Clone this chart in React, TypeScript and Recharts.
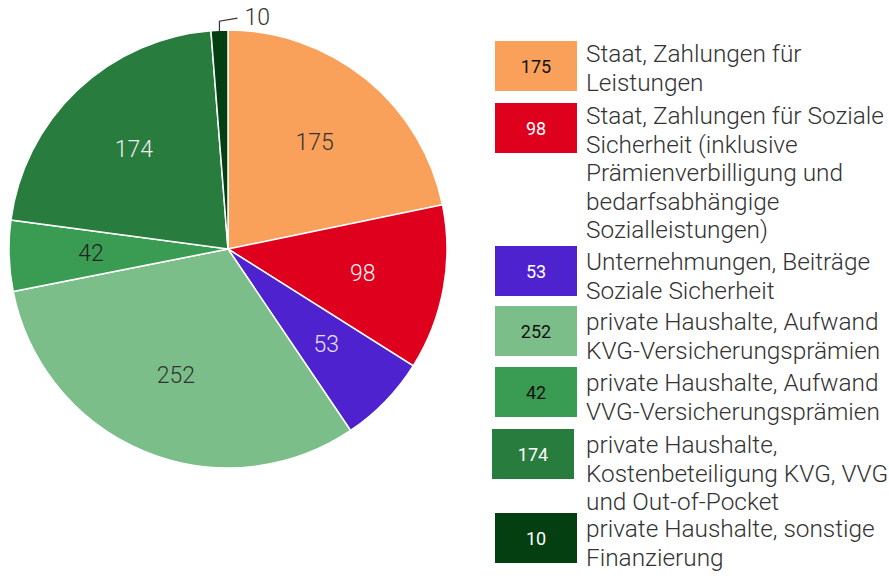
import { Cell, Legend, Pie, PieChart } from 'recharts';

const categories = [
  'Staat, Zahlungen für Leistungen',
  'Staat, Zahlungen für Soziale Sicherheit (inklusive Prämienverbilligung und bedarfsabhängige Sozialleistungen)',
  'Unternehmungen, Beiträge Soziale Sicherheit',
  'private Haushalte, Aufwand KVG-Versicherungsprämien',
  'private Haushalte, Aufwand VVG-Versicherungsprämien',
  'private Haushalte, Kostenbeteiligung KVG, VVG und Out-of-Pocket',
  'private Haushalte, sonstige Finanzierung',
];

// legend text as it wraps in the reference
const legendLines = [
  ['Staat, Zahlungen für', 'Leistungen'],
  ['Staat, Zahlungen für Soziale', 'Sicherheit (inklusive', 'Prämienverbilligung und', 'bedarfsabhängige', 'Sozialleistungen)'],
  ['Unternehmungen, Beiträge', 'Soziale Sicherheit'],
  ['private Haushalte, Aufwand', 'KVG-Versicherungsprämien'],
  ['private Haushalte, Aufwand', 'VVG-Versicherungsprämien'],
  ['private Haushalte,', 'Kostenbeteiligung KVG, VVG', 'und Out-of-Pocket'],
  ['private Haushalte, sonstige', 'Finanzierung'],
];

const values = [175, 98, 53, 252, 42, 174, 10];

const colors = ['#F9A15B', '#DF001E', '#4F22CF', '#7BBE89', '#3A9C52', '#287C3D', '#033F11'];
const labelColors = ['#333333', '#f2f2f2', '#e6e0f8', '#333333', '#222222', '#eeeeee', '#333333'];
const boxTextColors = ['#111111', '#ffffff', '#ffffff', '#111111', '#111111', '#ffffff', '#ffffff'];

// row heights of the legend, as spaced in the reference
const legendRowHeights = [62, 143, 60, 61, 62, 84, 60];

const data = categories.map((name, i) => ({ name, value: values[i] }));

const RADIAN = Math.PI / 180;
const FONT = 'Roboto, sans-serif';

function renderLabel(props: any) {
  const { cx, cy, midAngle, outerRadius, index, value } = props;
  if (index === values.length - 1) {
    const x0 = cx + outerRadius * Math.cos(-midAngle * RADIAN);
    const y0 = cy + outerRadius * Math.sin(-midAngle * RADIAN);
    return (
      <g>
        <path
          d={`M${x0},${y0 + 2} L${x0},${y0 - 9} L${x0 + 18},${y0 - 12}`}
          stroke="#333"
          strokeWidth={1.2}
          fill="none"
        />
        <text
          x={x0 + 25}
          y={y0 - 13}
          fill={labelColors[index]}
          fontSize={23}
          fontWeight={300}
          fontFamily={FONT}
          textAnchor="start"
          dominantBaseline="central"
        >
          {value}
        </text>
      </g>
    );
  }
  const r = 137;
  const x = cx + r * Math.cos(-midAngle * RADIAN);
  const y = cy + r * Math.sin(-midAngle * RADIAN);
  return (
    <text
      x={x}
      y={y}
      fill={labelColors[index]}
      fontSize={23}
      fontWeight={300}
      fontFamily={FONT}
      textAnchor="middle"
      dominantBaseline="central"
    >
      {value}
    </text>
  );
}

function LegendContent() {
  return (
    <div style={{ display: 'flex', flexDirection: 'column', fontFamily: FONT }}>
      {data.map((d, i) => (
        <div
          key={d.name}
          style={{ display: 'flex', alignItems: 'flex-start', height: legendRowHeights[i] }}
        >
          <div
            style={{
              width: 82,
              height: 50,
              flex: '0 0 82px',
              background: colors[i],
              color: boxTextColors[i],
              fontSize: 18,
              display: 'flex',
              alignItems: 'center',
              justifyContent: 'center',
              marginLeft: i === 5 ? 0 : 3,
              marginRight: i === 5 ? 12 : 9,
            }}
          >
            {d.value}
          </div>
          <div
            style={{
              fontSize: 24.4,
              fontWeight: 300,
              lineHeight: '28.5px',
              color: '#333',
              whiteSpace: 'nowrap',
              position: 'relative',
              top: i >= 2 ? 2 : -1,
            }}
          >
            {legendLines[i].map((line) => (
              <div key={line}>{line}</div>
            ))}
          </div>
        </div>
      ))}
    </div>
  );
}

export default function App() {
  return (
    <div style={{ position: 'absolute', left: 0, top: 0, width: 889, height: 578, background: '#fff' }}>
      <PieChart width={889} height={578} margin={{ top: 0, right: 0, bottom: 0, left: 0 }}>
        <Pie
          data={data}
          dataKey="value"
          nameKey="name"
          cx={228}
          cy={249}
          outerRadius={219}
          startAngle={90}
          endAngle={-270}
          stroke="#ffffff"
          strokeWidth={1.5}
          label={renderLabel}
          labelLine={false}
          isAnimationActive={false}
        >
          {data.map((d, i) => (
            <Cell key={d.name} fill={colors[i]} />
          ))}
        </Pie>
        <Legend
          layout="vertical"
          align="right"
          verticalAlign="top"
          content={<LegendContent />}
          wrapperStyle={{ position: 'absolute', left: 492, top: 41, width: 397 }}
        />
      </PieChart>
    </div>
  );
}
